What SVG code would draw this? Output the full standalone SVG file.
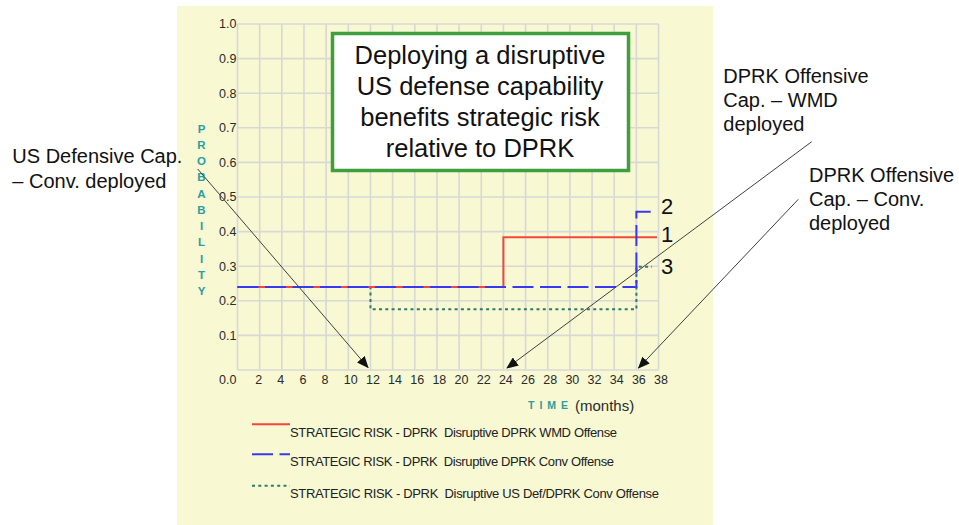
<svg xmlns="http://www.w3.org/2000/svg" width="959" height="525" viewBox="0 0 959 525">
<defs>
<style>
.grid line{stroke:#d8d8d4;stroke-width:1.6}
.tick{font-family:"Liberation Sans",Arial,sans-serif;font-size:12.5px;fill:#2a2a2a}
.axt{font-family:"Liberation Sans",Arial,sans-serif;font-size:11.5px;font-weight:bold;fill:#2b9ea0;text-anchor:middle}
.leg{font-family:"Liberation Sans",Arial,sans-serif;font-size:13px;fill:#222}
.ann{font-family:"Liberation Sans",Arial,sans-serif;font-size:20px;fill:#111}
.num{font-family:"Liberation Sans",Arial,sans-serif;font-size:22px;fill:#111}
.title{font-family:"Liberation Sans",Arial,sans-serif;font-size:25.5px;fill:#111;text-anchor:middle}
.red{fill:none;stroke:#f4473c;stroke-width:2}
.blue{fill:none;stroke:#3838f0;stroke-width:2;stroke-dasharray:21 6.5}
.green{fill:none;stroke:#2e7a6c;stroke-width:2;stroke-dasharray:3 3.3}
.arrow{stroke:#404040;stroke-width:1;fill:none;marker-end:url(#ah)}
</style>
<marker id="ah" viewBox="0 0 12 10" refX="11" refY="5" markerWidth="12" markerHeight="10" markerUnits="userSpaceOnUse" orient="auto">
<path d="M0,0 L12,5 L0,10 Z" fill="#111"/>
</marker>
</defs>
<rect x="0" y="0" width="959" height="525" fill="#ffffff"/>
<g id="panel">
<rect x="177" y="6" width="536" height="519" fill="#f8f8d3"/>
</g>
<g id="grid" class="grid">
<line x1="237.5" y1="24" x2="237.5" y2="370"/>
<line x1="259.66" y1="24" x2="259.66" y2="370"/>
<line x1="281.82" y1="24" x2="281.82" y2="370"/>
<line x1="303.98" y1="24" x2="303.98" y2="370"/>
<line x1="326.14" y1="24" x2="326.14" y2="370"/>
<line x1="348.3" y1="24" x2="348.3" y2="370"/>
<line x1="370.46" y1="24" x2="370.46" y2="370"/>
<line x1="392.62" y1="24" x2="392.62" y2="370"/>
<line x1="414.78" y1="24" x2="414.78" y2="370"/>
<line x1="436.94" y1="24" x2="436.94" y2="370"/>
<line x1="459.1" y1="24" x2="459.1" y2="370"/>
<line x1="481.26" y1="24" x2="481.26" y2="370"/>
<line x1="503.42" y1="24" x2="503.42" y2="370"/>
<line x1="525.58" y1="24" x2="525.58" y2="370"/>
<line x1="547.74" y1="24" x2="547.74" y2="370"/>
<line x1="569.9" y1="24" x2="569.9" y2="370"/>
<line x1="592.06" y1="24" x2="592.06" y2="370"/>
<line x1="614.22" y1="24" x2="614.22" y2="370"/>
<line x1="636.38" y1="24" x2="636.38" y2="370"/>
<line x1="658.54" y1="24" x2="658.54" y2="370"/>
<line x1="237.5" y1="24" x2="658.54" y2="24"/>
<line x1="237.5" y1="58.6" x2="658.54" y2="58.6"/>
<line x1="237.5" y1="93.2" x2="658.54" y2="93.2"/>
<line x1="237.5" y1="127.8" x2="658.54" y2="127.8"/>
<line x1="237.5" y1="162.4" x2="658.54" y2="162.4"/>
<line x1="237.5" y1="197" x2="658.54" y2="197"/>
<line x1="237.5" y1="231.6" x2="658.54" y2="231.6"/>
<line x1="237.5" y1="266.2" x2="658.54" y2="266.2"/>
<line x1="237.5" y1="300.8" x2="658.54" y2="300.8"/>
<line x1="237.5" y1="335.4" x2="658.54" y2="335.4"/>
<line x1="237.5" y1="370" x2="658.54" y2="370"/>
</g>
<g id="y-axis-labels" class="tick" text-anchor="end">
<text x="236.5" y="28.4">1.0</text>
<text x="236.5" y="63">0.9</text>
<text x="236.5" y="97.6">0.8</text>
<text x="236.5" y="132.2">0.7</text>
<text x="236.5" y="166.8">0.6</text>
<text x="236.5" y="201.4">0.5</text>
<text x="236.5" y="236">0.4</text>
<text x="236.5" y="270.6">0.3</text>
<text x="236.5" y="305.2">0.2</text>
<text x="236.5" y="339.8">0.1</text>
<text x="236.5" y="383.5">0.0</text>
</g>
<g id="x-axis-labels" class="tick">
<text x="255.2" y="383.5">2</text>
<text x="277.3" y="383.5">4</text>
<text x="299.5" y="383.5">6</text>
<text x="321.6" y="383.5">8</text>
<text x="343.8" y="383.5">10</text>
<text x="366" y="383.5">12</text>
<text x="388.1" y="383.5">14</text>
<text x="410.3" y="383.5">16</text>
<text x="432.4" y="383.5">18</text>
<text x="454.6" y="383.5">20</text>
<text x="476.8" y="383.5">22</text>
<text x="498.9" y="383.5">24</text>
<text x="521.1" y="383.5">26</text>
<text x="543.2" y="383.5">28</text>
<text x="565.4" y="383.5">30</text>
<text x="587.6" y="383.5">32</text>
<text x="609.7" y="383.5">34</text>
<text x="631.9" y="383.5">36</text>
<text x="654" y="383.5">38</text>
</g>
<g id="y-axis-title" class="axt">
<text x="201.5" y="132.5">P</text>
<text x="201.5" y="148.8">R</text>
<text x="201.5" y="165">O</text>
<text x="201.5" y="181.3">B</text>
<text x="201.5" y="197.5">A</text>
<text x="201.5" y="213.8">B</text>
<text x="201.5" y="230">I</text>
<text x="201.5" y="246.3">L</text>
<text x="201.5" y="262.5">I</text>
<text x="201.5" y="278.8">T</text>
<text x="201.5" y="295">Y</text>
</g>
<g id="x-axis-title">
<text x="528" y="408.8" font-family="Liberation Sans, Arial, sans-serif" font-size="10.5px" font-weight="bold" fill="#2b9ea0" letter-spacing="5">TIME</text>
<text x="575" y="411" class="tick" style="font-size:15px">(months)</text>
</g>
<g id="series">
<path class="green" d="M237.5,287 H370.5 V309.3 H636.4 V266.7 H652"/>
<path class="red" d="M237.5,287 H503.4 V237.3 H657"/>
<path class="blue" d="M237.5,287 H636.4 V211.7 H656"/>
</g>
<g id="series-labels" class="num">
<text x="661" y="213.8">2</text>
<text x="661" y="242">1</text>
<text x="661" y="274.3">3</text>
</g>
<g id="legend">
<line x1="252" y1="424.3" x2="290" y2="424.3" class="red"/>
<text x="290" y="437.3" class="leg" xml:space="preserve" textLength="327">STRATEGIC RISK - DPRK  Disruptive DPRK WMD Offense</text>
<line x1="252" y1="454.3" x2="290" y2="454.3" class="blue"/>
<text x="290" y="466.3" class="leg" xml:space="preserve" textLength="324">STRATEGIC RISK - DPRK  Disruptive DPRK Conv Offense</text>
<line x1="252" y1="485.7" x2="290" y2="485.7" class="green"/>
<text x="290" y="498" class="leg" xml:space="preserve" textLength="369">STRATEGIC RISK - DPRK  Disruptive US Def/DPRK Conv Offense</text>
</g>
<g id="title-box">
<rect x="332.5" y="33.5" width="296" height="137" fill="#ffffff" stroke="#3f9f3f" stroke-width="3.5"/>
<text x="480" y="63.5" class="title">Deploying a disruptive</text>
<text x="480" y="94.5" class="title">US defense capability</text>
<text x="480" y="125.5" class="title">benefits strategic risk</text>
<text x="480" y="156.5" class="title">relative to DPRK</text>
</g>
<g id="connectors">
<line class="arrow" x1="197.7" y1="169" x2="368" y2="367.5"/>
<line class="arrow" x1="811.7" y1="141.7" x2="507" y2="368"/>
<line class="arrow" x1="798.3" y1="199.3" x2="638.5" y2="368"/>
</g>
<g id="ann-us-def" class="ann">
<text x="12.3" y="163.3">US Defensive Cap.</text>
<text x="12.3" y="187.5">– Conv. deployed</text>
</g>
<g id="ann-dprk-wmd" class="ann">
<text x="723.3" y="82.5">DPRK Offensive</text>
<text x="723.3" y="106.5">Cap. – WMD</text>
<text x="723.3" y="130.5">deployed</text>
</g>
<g id="ann-dprk-conv" class="ann">
<text x="809" y="182">DPRK Offensive</text>
<text x="809" y="206">Cap. – Conv.</text>
<text x="809" y="230">deployed</text>
</g>
</svg>
